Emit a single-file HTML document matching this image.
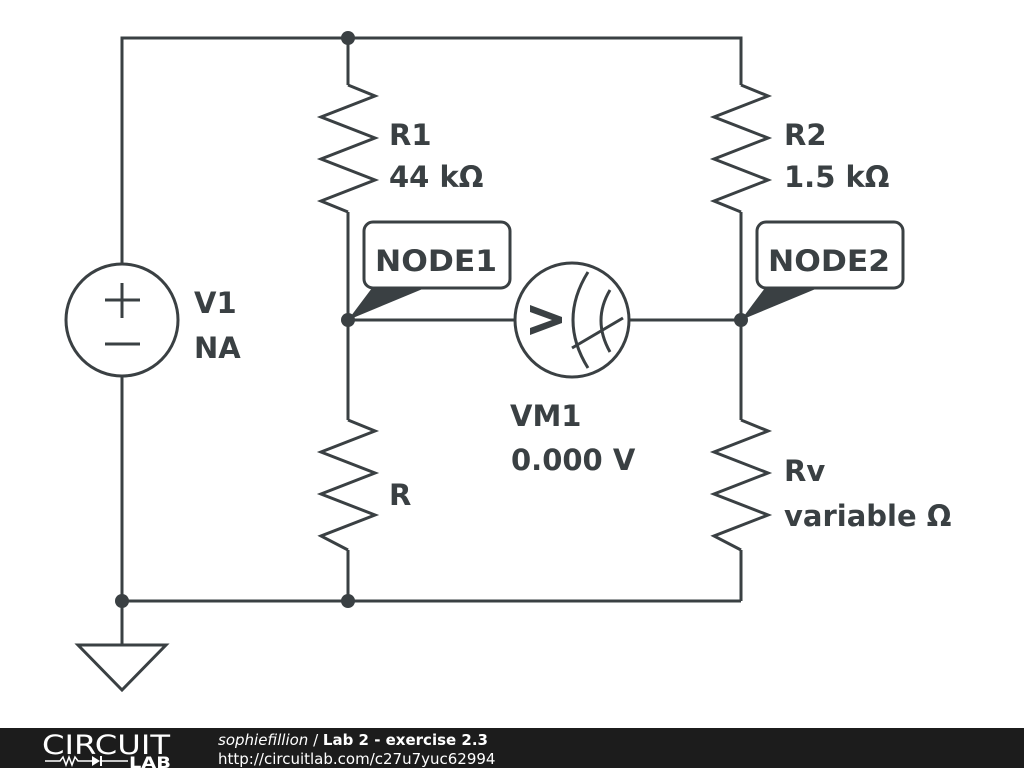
<!DOCTYPE html>
<html><head><meta charset="utf-8"><style>
html,body{margin:0;padding:0;background:#fff;width:1024px;height:768px;overflow:hidden}
svg{display:block}
text{font-family:"DejaVu Sans","Liberation Sans",sans-serif;font-weight:bold;fill:#3a4043}
</style></head><body>
<svg width="1024" height="768" viewBox="0 0 1024 768" xmlns="http://www.w3.org/2000/svg">
<g stroke="#3a4043" stroke-width="3" fill="none" stroke-linejoin="miter">
<polyline points="122,263 122,38 741,38 741,85"/>
<line x1="122" y1="376" x2="122" y2="645"/>
<line x1="122" y1="601" x2="741" y2="601"/>
<line x1="348" y1="38" x2="348" y2="85"/>
<line x1="348" y1="212" x2="348" y2="420"/>
<line x1="348" y1="550" x2="348" y2="601"/>
<line x1="741" y1="212" x2="741" y2="420"/>
<line x1="741" y1="550" x2="741" y2="601"/>
<line x1="348" y1="320" x2="515" y2="320"/>
<line x1="629" y1="320" x2="741" y2="320"/>
<polyline points="348,85 375,96 321,117 375,138 321,159 375,180 321,201 348,212"/>
<polyline points="741,85 768,96 714,117 768,138 714,159 768,180 714,201 741,212"/>
<polyline points="348,420 375,431 321,452 375,473 321,494 375,515 321,536 348,550"/>
<polyline points="741,420 768,431 714,452 768,473 714,494 768,515 714,536 741,550"/>
<circle cx="122" cy="320" r="56"/>
<line x1="105" y1="300" x2="140" y2="300"/>
<line x1="122" y1="283" x2="122" y2="318"/>
<line x1="105" y1="344" x2="140" y2="344"/>
<circle cx="572" cy="320" r="57"/>
<path d="M588,272 Q558,320 588,368"/>
<path d="M610,290 Q592,320 610,352"/>
<line x1="572" y1="348" x2="623" y2="318"/>
<polygon points="78,645 166,645 122,690"/>
<rect x="364" y="222" width="146" height="66" rx="9"/>
<rect x="757" y="222" width="146" height="66" rx="9"/>
</g>
<g fill="#3a4043">
<polygon points="530,305 562,317 562,323 530,335 530,328 552,320 530,312"/>
<polygon points="348,320 372,288 425,288"/>
<polygon points="741,320 765,288 818,288"/>
<circle cx="348" cy="38" r="7"/>
<circle cx="348" cy="320" r="7"/>
<circle cx="741" cy="320" r="7"/>
<circle cx="122" cy="601" r="7"/>
<circle cx="348" cy="601" r="7"/>
</g>
<g font-size="29">
<text x="375" y="271" textLength="122" lengthAdjust="spacingAndGlyphs">NODE1</text>
<text x="768" y="271" textLength="122" lengthAdjust="spacingAndGlyphs">NODE2</text>
<text x="389" y="145">R1</text>
<text x="389" y="187">44 kΩ</text>
<text x="784" y="145">R2</text>
<text x="784" y="187">1.5 kΩ</text>
<text x="194" y="313">V1</text>
<text x="194" y="358">NA</text>
<text x="510" y="426">VM1</text>
<text x="511" y="470">0.000 V</text>
<text x="389" y="505">R</text>
<text x="784" y="481">Rv</text>
<text x="784" y="526">variable Ω</text>
</g>
<rect x="0" y="728" width="1024" height="40" fill="#1c1c1c"/>
<text x="42" y="754" font-size="27" style="font-family:'DejaVu Sans',sans-serif;font-weight:normal;fill:#fff" textLength="128" lengthAdjust="spacingAndGlyphs">CIRCUIT</text>
<polyline points="45,761 60,761 63,757 66,765 69,757 72,765 75,757 78,761 92,761" fill="none" stroke="#fff" stroke-width="1.5"/>
<polygon points="92,756 92,766 100,761" fill="#fff"/>
<line x1="101" y1="756" x2="101" y2="766" stroke="#fff" stroke-width="2"/>
<line x1="101" y1="761" x2="128" y2="761" stroke="#fff" stroke-width="1.5"/>
<text x="129" y="768" font-size="16" style="fill:#fff" textLength="42" lengthAdjust="spacingAndGlyphs">LAB</text>
<text x="218" y="745" font-size="15" style="fill:#fff;font-weight:normal"><tspan font-style="italic">sophiefillion</tspan> / <tspan font-weight="bold">Lab 2 - exercise 2.3</tspan></text>
<text x="218" y="764" font-size="15" style="fill:#fff;font-weight:normal">http://circuitlab.com/c27u7yuc62994</text>
</svg>
</body></html>
